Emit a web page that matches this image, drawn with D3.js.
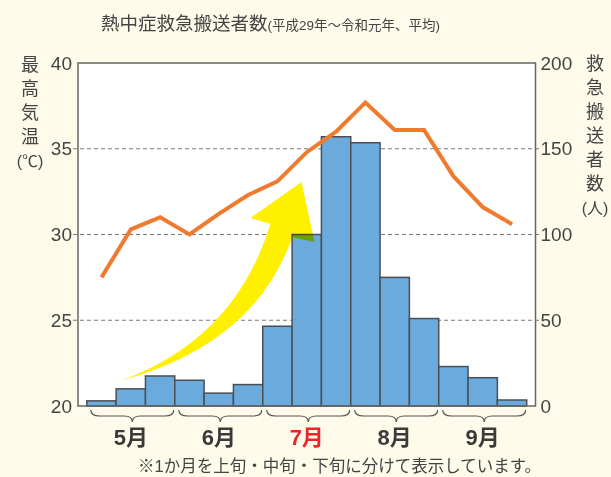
<!DOCTYPE html>
<html><head><meta charset="utf-8">
<script src="https://cdn.jsdelivr.net/npm/d3@7"></script>
<style>
html,body{margin:0;padding:0;background:#fefbea;}
svg{display:block;}
text{font-family:"Liberation Sans","Noto Sans CJK JP",sans-serif;}
</style></head>
<body>
<svg id="c" width="611" height="477"></svg>
<script>
const months = ["5月","6月","7月","8月","9月"];
const periods = ["5上","5中","5下","6上","6中","6下","7上","7中","7下","8上","8中","8下","9上","9中","9下"];
const transports = [3, 10, 17.5, 15, 7.5, 12.5, 46.5, 100, 157, 153.5, 75, 51, 23, 16.5, 3.5];
const temps = [27.5, 30.3, 31.0, 30.0, 31.2, 32.3, 33.1, 34.8, 36.0, 37.7, 36.1, 36.1, 33.4, 31.6, 30.6];
const leftTicks = [20, 25, 30, 35, 40];
const rightTicks = [0, 50, 100, 150, 200];
// decorative arrow outline in [bar index, count] coordinates
const arrowPts = [[1.115,14.6],[5.04,38.5],[6.26,106.1],[5.58,109.6],[7.32,130.6],[7.76,95.6],[7.01,98.5],[5.72,35.6]];

const svg = d3.select("#c");
const L = 78, R = 535.5, T = 63, B = 406;

const x = d3.scaleBand().domain(periods).range([L, R]).paddingInner(0).paddingOuter(0.3);
const yL = d3.scaleLinear().domain([20, 40]).range([B, T]);
const yR = d3.scaleLinear().domain([0, 200]).range([B, T]);
const xi = i => x(periods[0]) + i * x.step();

// plot background
svg.append("rect").attr("x", L).attr("y", T).attr("width", R - L).attr("height", B - T).attr("fill", "#fff");

// grid
svg.append("g").selectAll("line").data(leftTicks.filter(d => d > 20 && d < 40)).join("line")
  .attr("x1", L - 5).attr("x2", R + 4).attr("y1", d => yL(d)).attr("y2", d => yL(d))
  .attr("stroke", "#7a7a7a").attr("stroke-width", 1).attr("stroke-dasharray", "4,3");

// arrow (under bars)
const a = arrowPts.map(p => [xi(p[0]), yR(p[1])]);
const arrowPath = `M${a[0]}Q${a[1]} ${a[2]}L${a[3]}L${a[4]}L${a[5]}L${a[6]}Q${a[7]} ${a[0]}Z`;
svg.append("path").attr("d", arrowPath).attr("fill", "#fff000");

// bars
const barRect = sel => sel
  .attr("x", (d, i) => x(periods[i])).attr("width", x.bandwidth())
  .attr("y", d => yR(d)).attr("height", d => B - yR(d));
svg.append("g").selectAll("rect").data(transports).join("rect").call(barRect)
  .attr("fill", "#6aaadc").attr("stroke", "#4a4f55").attr("stroke-width", 1.5);

// clip for arrow overlay on bars
svg.append("defs").append("clipPath").attr("id", "barclip")
  .selectAll("rect").data(transports).join("rect").call(barRect);
svg.append("path").attr("d", arrowPath).attr("fill", "#fff000")
  .attr("clip-path", "url(#barclip)").style("mix-blend-mode", "multiply");

// frame
svg.append("rect").attr("x", L).attr("y", T).attr("width", R - L).attr("height", B - T)
  .attr("fill", "none").attr("stroke", "#666").attr("stroke-width", 1.5);

// line
const line = d3.line().x((d, i) => x(periods[i]) + x.bandwidth() / 2).y(d => yL(d));
svg.append("path").datum(temps).attr("d", line).attr("fill", "none")
  .attr("stroke", "#f07a2e").attr("stroke-width", 4).attr("stroke-linejoin", "miter");

// axes
const axL = svg.append("g").attr("transform", `translate(${L},0)`).call(d3.axisLeft(yL).tickValues(leftTicks).tickSize(0).tickPadding(6));
const axR = svg.append("g").attr("transform", `translate(${R},0)`).call(d3.axisRight(yR).tickValues(rightTicks).tickSize(0).tickPadding(5));
[axL, axR].forEach(g => {
  g.select(".domain").remove();
  g.selectAll("text").attr("font-size", 19).attr("fill", "#444").attr("font-family", "Liberation Sans, Arial, sans-serif");
});

// title
const title = svg.append("text").attr("x", 101).attr("y", 30).attr("fill", "#444");
title.append("tspan").attr("font-size", 18.5).text("熱中症救急搬送者数");
title.append("tspan").attr("font-size", 13.5).text("(平成29年～令和元年、平均)");

// vertical axis titles
const leftLab = ["最","高","気","温","(℃)"];
svg.append("g").selectAll("text").data(leftLab).join("text")
  .attr("x", 30).attr("y", (d, i) => 71 + i * 24).attr("text-anchor", "middle")
  .attr("font-size", d => d.length > 1 ? 16 : 18).attr("fill", "#444").text(d => d);
const rightLab = ["救","急","搬","送","者","数","(人)"];
svg.append("g").selectAll("text").data(rightLab).join("text")
  .attr("x", 595).attr("y", (d, i) => 70 + i * 24).attr("text-anchor", "middle")
  .attr("font-size", d => d.length > 1 ? 16 : 18).attr("fill", "#444").text(d => d);

// braces and month labels
const g = svg.append("g");
months.forEach((m, k) => {
  const x0 = x(periods[k * 3]) + 4, x1 = x(periods[k * 3 + 2]) + x.bandwidth() - 1;
  const xm = (x0 + x1) / 2, y0 = 410, y1 = 416, y2 = 422;
  g.append("path")
    .attr("d", `M${x0},${y0}Q${x0},${y1} ${x0 + 9},${y1}L${xm - 8},${y1}Q${xm},${y1} ${xm},${y2}Q${xm},${y1} ${xm + 8},${y1}L${x1 - 9},${y1}Q${x1},${y1} ${x1},${y0}`)
    .attr("fill", "none").attr("stroke", "#555").attr("stroke-width", 1.2);
  g.append("text").attr("x", x(periods[k * 3 + 1]) + x.bandwidth() / 2).attr("y", 445)
    .attr("text-anchor", "middle").attr("font-size", 22).attr("font-weight", "bold")
    .attr("fill", m === "7月" ? "#e8262b" : "#3a3a3a").text(m);
});

// footnote
svg.append("text").attr("x", 541).attr("y", 472).attr("text-anchor", "end")
  .attr("font-size", 16.5).attr("fill", "#444").text("※1か月を上旬・中旬・下旬に分けて表示しています。");
</script>
</body></html>
